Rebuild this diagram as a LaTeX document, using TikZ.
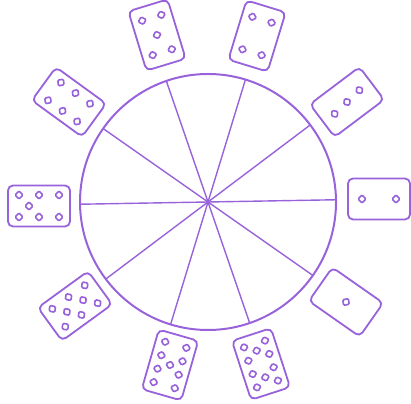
\documentclass[tikz,border=0pt]{standalone}
\usetikzlibrary{shapes.geometric}
\definecolor{pen}{RGB}{152,98,218}
\tikzset{
  cardbox/.style={draw=pen, line width=1.8pt, rounded corners=5pt, minimum width=62pt, minimum height=41pt, inner sep=0pt},
  pip/.style={draw=pen, line width=1.6pt, diamond, minimum width=8.5pt, minimum height=9pt, inner sep=0pt, rounded corners=1.2pt},
  spoke/.style={draw=pen, line width=1.4pt},
  wheel/.style={draw=pen, line width=2pt, circle, minimum size=256pt, inner sep=0pt, outer sep=0pt},
}
\newcommand\mycard[5]{%
 \begin{scope}[shift={(#2pt,#3pt)}, rotate=#4, transform shape]
   \node[cardbox] (#1) at (0,0) {};
   \foreach \pu/\pv [count=\i] in {#5} \node[pip] (#1-\i) at (\pu pt,\pv pt) {};
 \end{scope}}
\begin{document}
\begin{tikzpicture}
\useasboundingbox (0,0) rectangle (411pt,403pt);
\node[wheel] (C) at (208pt,201pt) {};
\foreach \k in {0,...,9} {
  \pgfmathsetmacro\ang{36*\k+1}
  \draw[spoke] (C.center) -- (C.\ang);
}
\mycard{c1}{346}{101}{325}{0/0}
\mycard{c2}{379}{204}{0}{-17/0, 17/0}
\mycard{c3}{347}{301}{37}{-17/-2, 0/0, 17/2}
\mycard{c4}{257}{367}{73}{-17/-10, -17/10, 17/-10, 17/10}
\mycard{c5}{157}{368}{107}{-18/-10, -18/10, 18/-10, 18/10, 0/0}
\mycard{c6}{69}{301}{144}{-18/-11, 0/-11, 18/-11, -18/11, 0/11, 18/11}
\mycard{c7}{39}{197}{180}{-20/-11, 0/-11, 20/-11, -20/11, 0/11, 20/11, 10/0}
\mycard{c8}{75}{97}{216}{-20/-11, 0/-11, 20/-11, -20/11, 0/11, 20/11, -10/0, 10/0}
\mycard{c9}{170}{38}{254}{-21/-11, -7/-11, 7/-11, 21/-11, -21/11, -7/11, 7/11, 21/11, 0/0}
\mycard{c10}{261}{39}{288}{-21/-11, -7/-11, 7/-11, 21/-11, -21/11, -7/11, 7/11, 21/11, -14/0, 14/0}
\end{tikzpicture}
\end{document}
